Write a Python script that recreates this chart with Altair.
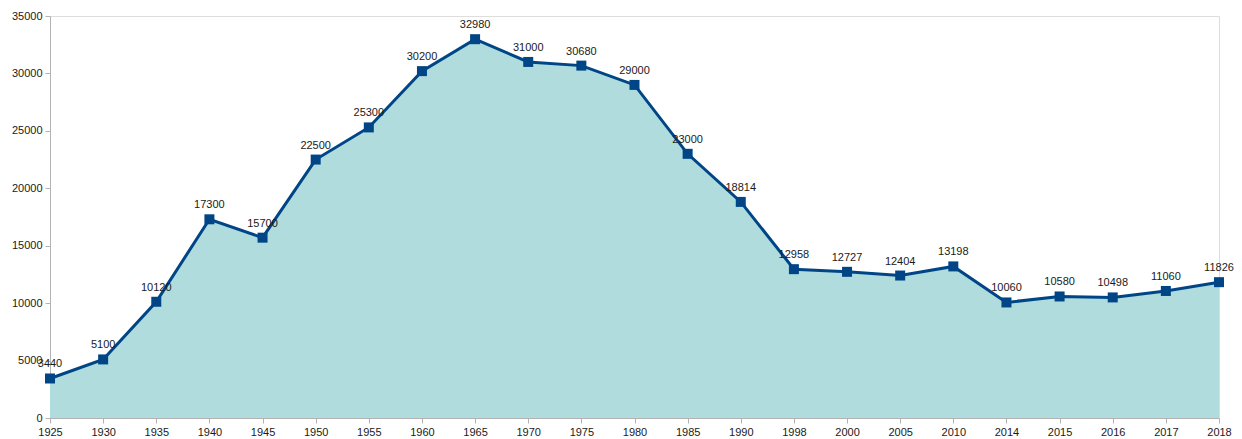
import altair as alt
import pandas as pd

years = ["1925", "1930", "1935", "1940", "1945", "1950", "1955", "1960", "1965", "1970",
         "1975", "1980", "1985", "1990", "1998", "2000", "2005", "2010", "2014", "2015",
         "2016", "2017", "2018"]
values = [3440, 5100, 10120, 17300, 15700, 22500, 25300, 30200, 32980, 31000,
          30680, 29000, 23000, 18814, 12958, 12727, 12404, 13198, 10060, 10580,
          10498, 11060, 11826]

df = pd.DataFrame({"year": years, "value": values})

FONT = "Liberation Sans"
LINE = "#004586"
FILL = "#b0dcde"
TXT = "#1a1a1a"

x = alt.X("year:O", sort=years, title=None,
          scale=alt.Scale(type="point", padding=0),
          axis=alt.Axis(labelAngle=0, labelFont=FONT, labelFontSize=11, labelColor=TXT,
                        tickColor="#b3b3b3", tickSize=5, domainColor="#b3b3b3", labelPadding=3))
y = alt.Y("value:Q", title=None,
          scale=alt.Scale(domain=[0, 35000], nice=False),
          axis=alt.Axis(values=list(range(0, 35001, 5000)), format="d", grid=False, labelFont=FONT,
                        labelFontSize=11, labelColor=TXT, tickColor="#b3b3b3",
                        tickSize=5, domainColor="#b3b3b3", labelPadding=3))

base = alt.Chart(df).encode(x=x, y=y)

area = base.mark_area(color=FILL, opacity=1)
line = base.mark_line(color=LINE, strokeWidth=3)
pts = base.mark_point(shape="square", filled=True, color=LINE, size=100, opacity=1)
labels = base.mark_text(font=FONT, fontSize=11, color=TXT, dy=-14).encode(text="value:Q")

chart = (area + line + pts + labels).properties(
    width=1169, height=402,
    autosize=alt.AutoSizeParams(type="none"),
    padding={"left": 42, "top": 8, "right": 15, "bottom": 20},
).configure_view(stroke="#b3b3b3", strokeWidth=1).configure(background="white")

chart.save("out.html", embed_options={"renderer": "svg", "actions": False})
